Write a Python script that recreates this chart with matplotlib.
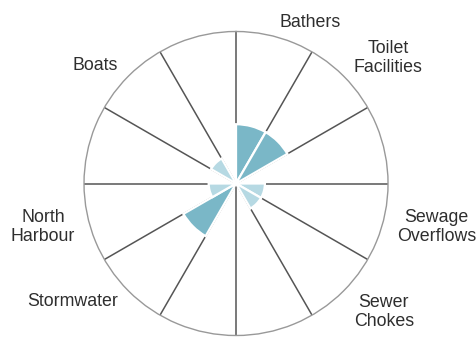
import numpy as np
import matplotlib
matplotlib.use("Agg")
import matplotlib.pyplot as plt

# Twelve 30-degree sectors, clockwise from north; unnamed sectors are empty
sectors = ["Bathers", "Toilet\nFacilities", "", "Sewage\nOverflows", "Sewer\nChokes", "",
           "", "Stormwater", "North\nHarbour", "", "Boats", ""]
values = [39, 39, 0, 19, 19, 0, 0, 40, 18, 0, 19, 0]
r_max = 100

dark = "#7ab7c7"
light = "#b6d9e3"

plt.rcParams["font.family"] = ["Liberation Sans", "DejaVu Sans"]

fig = plt.figure(figsize=(4.76, 3.38), dpi=100)
ax = fig.add_axes([0.1765, 0.0074, 0.6387, 0.8994], projection="polar")
ax.set_theta_zero_location("N")
ax.set_theta_direction(-1)
ax.set_ylim(0, r_max)

n = len(sectors)
step = 2 * np.pi / n
edges = np.arange(n) * step
centers = edges + step / 2

# spokes along sector boundaries
for t in edges:
    ax.plot([t, t], [0, r_max], color="#555555", lw=1.1, zorder=1, solid_capstyle="butt")

colors = [dark if v >= 30 else light for v in values]
ax.bar(centers, values, width=step, color=colors, edgecolor="white",
       linewidth=1.6, zorder=2)

# category labels just outside the rim; diagonal two-line labels pushed outward vertically
for t, lab in zip(centers, sectors):
    if not lab:
        continue
    ha = "left" if np.sin(t) > 0 else "right"
    dy = 0
    if "\n" in lab and abs(np.cos(t)) > 0.5:
        dy = 8 * np.sign(np.cos(t)) if np.cos(t) > 0 else -11
    ax.annotate(lab, xy=(t, 109.5), xytext=(0, dy), textcoords="offset pixels",
                ha=ha, va="center", ma="center", fontsize=12.8,
                color="#2e2e2e", linespacing=1.15, annotation_clip=False)

ax.grid(False)
ax.set_xticks([])
ax.set_yticks([])
ax.spines["polar"].set_color("#999999")
ax.spines["polar"].set_linewidth(1.0)
ax.set_facecolor("white")

fig.savefig("out.png", dpi=100, facecolor="white")
